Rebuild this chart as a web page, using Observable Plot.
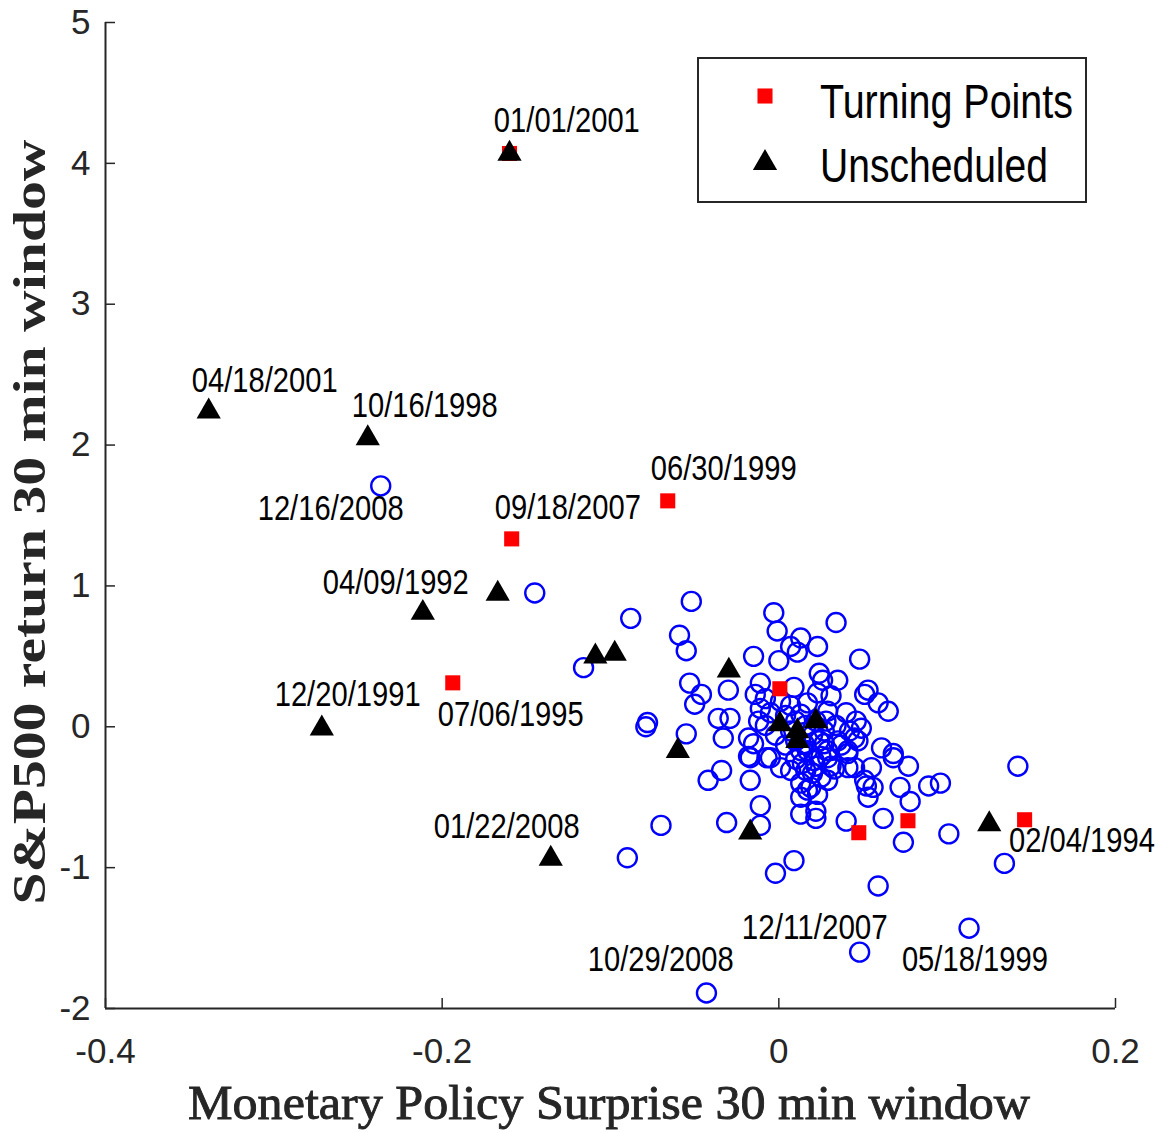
<!DOCTYPE html>
<html><head><meta charset="utf-8">
<script src="https://cdn.jsdelivr.net/npm/d3@7"></script>
<script src="https://cdn.jsdelivr.net/npm/@observablehq/plot@0.6"></script>
<style>body{margin:0;background:#fff}</style>
</head><body><div id="chart"></div>
<script>
const xTicks = [-0.4, -0.2, 0, 0.2];
const xTickLabels = ["-0.4", "-0.2", "0", "0.2"];
const yTicks = [-2, -1, 0, 1, 2, 3, 4, 5];
const yTickLabels = ["-2", "-1", "0", "1", "2", "3", "4", "5"];
const seriesNames = ["Turning Points", "Unscheduled"];
const xLabel = "Monetary Policy Surprise 30 min window";
const yLabel = "S&P500 return 30 min window";

// Scheduled announcements (blue circles)
const circleX = [-0.2365,-0.145,-0.116,-0.088,-0.052,-0.059,-0.055,-0.053,-0.046,-0.050,-0.079,-0.078,-0.055,-0.036,-0.029,-0.033,-0.030,-0.015,0.000,-0.003,-0.001,0.007,0.011,0.013,0.023,0.034,0.048,0.053,0.059,0.065,0.142,0.134,0.113,0.048,-0.043,-0.090,-0.070,-0.031,-0.011,-0.011,-0.002,0.009,0.059,0.074,0.101,0.089,0.096,0.078,0.072,0.077,0.062,0.040,0.022,0.013,-0.042,-0.034,-0.017,-0.017,-0.015,-0.007,0.001,0.013,0.017,0.013,0.023,0.029,0.020,0.025,0.033,0.045,0.051,0.055,0.052,0.053,0.041,0.047,0.061,0.068,0.068,0.045,0.049,0.040,0.046,0.042,0.051,0.035,0.026,0.024,0.023,0.031,0.017,0.013,0.029,0.009,-0.011,-0.014,-0.008,-0.011,-0.012,-0.008,0.007,0.027,-0.018,-0.018,-0.005,0.010,0.014,0.017,0.024,0.029,0.035,0.041,0.015,0.027,0.021,0.029,0.041,0.019,0.056,0.022,0.004,0.010,0.016,0.022,0.020,0.010,0.004,-0.002,-0.005,0.001,0.007,0.034,0.037,0.025,0.031,0.016,0.007,0.013,0.022,0.028];
const circleY = [1.71,0.95,0.42,0.77,0.89,0.65,0.54,0.31,0.23,0.16,0.00,0.03,-0.05,0.06,0.06,-0.08,0.26,0.50,0.47,0.81,0.68,0.57,0.53,0.63,0.57,0.74,0.48,0.26,0.17,0.11,-0.28,-0.97,-1.43,-1.60,-1.89,-0.93,-0.70,-0.68,-0.70,-0.56,-1.04,-0.95,-1.13,-0.82,-0.76,-0.42,-0.40,-0.53,-0.43,-0.28,-0.65,-0.67,-0.65,-0.62,-0.38,-0.31,-0.38,-0.22,-0.12,-0.22,-0.29,-0.40,-0.45,-0.50,-0.48,-0.38,-0.33,-0.36,-0.30,-0.29,-0.38,-0.29,-0.42,-0.50,-0.19,-0.10,-0.15,-0.19,-0.22,-0.08,-0.01,0.10,0.04,-0.03,0.23,0.33,0.33,0.38,0.24,0.22,0.17,0.09,0.11,0.28,0.31,0.23,0.20,0.13,0.04,0.01,-0.03,-0.03,-0.08,-0.21,-0.22,-0.23,-0.26,-0.17,-0.10,-0.17,-0.10,-0.17,-0.12,-0.12,-0.24,-0.22,-0.29,-0.43,-0.43,-0.60,0.08,0.04,0.01,0.04,-0.06,-0.10,-0.13,-0.06,0.10,0.18,0.15,0.01,-0.13,-0.21,-0.28,-0.31,-0.31,-0.17,-0.28,0.04];

// Turning points (red squares)
const turnX = [-0.160,-0.1587,-0.066,-0.1937,0.0006,0.0475,0.0767,0.146];
const turnY = [4.07,1.334,1.604,0.312,0.27,-0.752,-0.667,-0.66];

// Unscheduled (black triangles)
const unschedX = [-0.3387,-0.2442,-0.2115,-0.167,-0.160,-0.2715,-0.1355,-0.109,-0.0975,-0.060,-0.0297,-0.017,0.0006,0.011,0.011,0.022,0.125];
const unschedY = [2.26,2.07,0.83,0.965,4.09,0.01,-0.915,0.52,0.54,-0.15,0.42,-0.73,0.04,-0.01,-0.08,0.06,-0.67];

// Date annotations
const labelText = ["01/01/2001","04/18/2001","10/16/1998","12/16/2008","09/18/2007","06/30/1999","04/09/1992","12/20/1991","07/06/1995","01/22/2008","02/04/1994","12/11/2007","10/29/2008","05/18/1999"];
const labelX = [-0.1693,-0.3488,-0.2537,-0.3096,-0.1687,-0.0761,-0.2709,-0.2995,-0.2026,-0.205,0.1367,-0.022,-0.1135,0.0731];
const labelY = [4.30,2.456,2.278,1.547,1.554,1.831,1.022,0.227,0.085,-0.710,-0.809,-1.430,-1.657,-1.657];

const circles = circleX.map((x, i) => ({x, y: circleY[i]}));
const turning = turnX.map((x, i) => ({x, y: turnY[i]}));
const unsched = unschedX.map((x, i) => ({x, y: unschedY[i]}));
const labels = labelText.map((t, i) => ({t, x: labelX[i], y: labelY[i]}));

const FONT = "'Liberation Sans Narrow', 'Liberation Sans', Arial, sans-serif";
const SERIF = "'Liberation Serif', 'DejaVu Serif', serif";
const AX = "#262626";

const plot = Plot.plot({
  width: 1166, height: 1133,
  marginLeft: 105, marginRight: 51, marginTop: 22, marginBottom: 125,
  x: {domain: [xTicks[0], xTicks[xTicks.length - 1]]},
  y: {domain: [yTicks[0], yTicks[yTicks.length - 1]]},
  style: {background: "#fff", fontFamily: FONT, color: AX, overflow: "visible"},
  marks: [
    Plot.dot(circles, {x: "x", y: "y", r: 9.5, stroke: "#0000ff", strokeWidth: 2.4, fill: "none"}),
    Plot.dot(turning, {x: "x", y: "y", symbol: "square", r: 8.5, fill: "#ff0000", stroke: "none"}),
    Plot.dot(unsched, {x: "x", y: "y", symbol: "triangle", r: 9, dy: 3, fill: "#000", stroke: "none"}),
    Plot.text(labels, {x: "x", y: "y", text: "t", textAnchor: "start", fontSize: 35, fill: "#000"}),
    Plot.ruleX([xTicks[0]], {stroke: AX, strokeWidth: 2}),
    Plot.ruleY([yTicks[0]], {stroke: AX, strokeWidth: 2}),
    Plot.tickX(xTicks, {x: d => d, insetTop: 976, stroke: AX, strokeWidth: 1.5}),
    Plot.tickY(yTicks, {y: d => d, insetRight: 1000, stroke: AX, strokeWidth: 1.5}),
    Plot.axisX(xTicks, {tickSize: 0, tickPadding: 30, fontSize: 35, tickFormat: d => xTickLabels[xTicks.indexOf(d)], label: null, fill: AX}),
    Plot.axisY(yTicks, {tickSize: 0, tickPadding: 15, fontSize: 35, tickFormat: d => yTickLabels[yTicks.indexOf(d)], label: null, fill: AX})
  ]
});
document.getElementById("chart").appendChild(plot);

const svg = d3.select(plot);
svg.selectAll('g[aria-label="text"] text').attr("textLength", 146).attr("lengthAdjust", "spacingAndGlyphs");

// Axis titles
svg.append("text")
  .attr("transform", "translate(45,522) rotate(-90)")
  .attr("text-anchor", "middle")
  .attr("font-family", SERIF)
  .attr("font-weight", "bold")
  .attr("font-size", 46)
  .attr("fill", AX)
  .attr("textLength", 765).attr("lengthAdjust", "spacingAndGlyphs")
  .text(yLabel);
svg.append("text")
  .attr("x", 609).attr("y", 1119)
  .attr("text-anchor", "middle")
  .attr("font-family", SERIF)
  .attr("font-size", 49)
  .attr("fill", AX)
  .attr("stroke", AX).attr("stroke-width", 0.9)
  .attr("textLength", 842).attr("lengthAdjust", "spacingAndGlyphs")
  .text(xLabel);

// Legend
const lg = svg.append("g");
lg.append("rect").attr("x", 698).attr("y", 58).attr("width", 388).attr("height", 144)
  .attr("fill", "#fff").attr("stroke", AX).attr("stroke-width", 2);
lg.append("path").attr("transform", "translate(765,96)")
  .attr("d", d3.symbol(d3.symbolSquare, 8.5 * 8.5 * Math.PI)()).attr("fill", "#ff0000");
lg.append("path").attr("transform", "translate(765,163)")
  .attr("d", d3.symbol(d3.symbolTriangle, 9 * 9 * Math.PI)()).attr("fill", "#000");
const legendLens = [253, 228];
const legendBase = [118, 182];
seriesNames.forEach((s, i) => {
  lg.append("text").attr("x", 820).attr("y", legendBase[i])
    .attr("text-anchor", "start")
    .attr("font-family", FONT).attr("font-size", 49).attr("fill", "#000")
    .attr("textLength", legendLens[i]).attr("lengthAdjust", "spacingAndGlyphs")
    .text(s);
});
</script>
</body></html>
